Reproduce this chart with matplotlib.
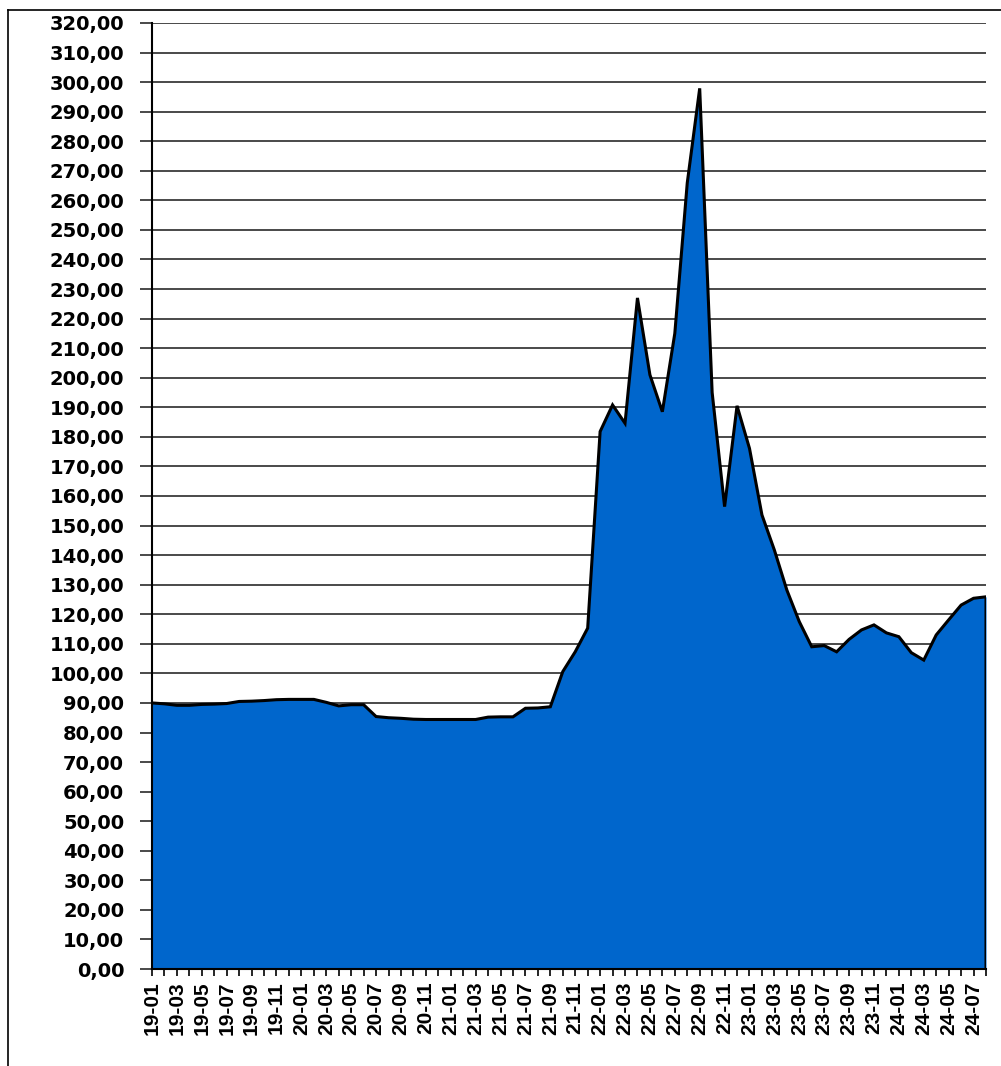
import matplotlib
matplotlib.use('Agg')
import matplotlib.pyplot as plt
from matplotlib.lines import Line2D

# monthly values 2019-01 .. 2024-08
years = ['19', '20', '21', '22', '23', '24']
months = [y + '-' + '%02d' % m for y in years for m in range(1, 13)][:68]
values = [
    90.0, 89.7, 89.2, 89.2, 89.5, 89.6, 89.8, 90.5, 90.6, 90.8, 91.1, 91.2,   # 2019
    91.2, 91.2, 90.2, 89.0, 89.4, 89.4, 85.4, 85.0, 84.8, 84.5, 84.4, 84.4,   # 2020
    84.4, 84.4, 84.4, 85.2, 85.3, 85.3, 88.2, 88.3, 88.7, 100.6, 107.3, 115.3,  # 2021
    181.8, 190.8, 184.6, 227.0, 201.0, 188.5, 215.0, 265.9, 297.9, 195.0, 156.4, 190.5,  # 2022
    176.1, 153.6, 141.7, 128.2, 117.5, 109.0, 109.4, 107.3, 111.5, 114.7, 116.4, 113.7,  # 2023
    112.4, 107.0, 104.5, 113.0, 118.1, 123.1, 125.4, 125.9,  # 2024
]

x = list(range(len(values)))

fig = plt.figure(figsize=(10.01, 10.66), dpi=100)
ax = fig.add_axes([152 / 1001, 1 - 969 / 1066, (986 - 152) / 1001, (969 - 23) / 1066])

ax.fill_between(x, values, 0, color='#0066CC', zorder=3, linewidth=0)
ax.plot(x + [x[-1]], values + [0], color='black', lw=2.2, zorder=4, solid_joinstyle='miter')

ax.set_xlim(0, len(values) - 1)
ax.set_ylim(0, 320)

yt = list(range(0, 321, 10))
ax.set_yticks(yt)
ax.set_yticklabels([('%d,00' % v) for v in yt], fontsize=14, fontweight='bold',
                   family='DejaVu Sans')
ax.yaxis.grid(True, color='#3a3a3a', lw=1.3, zorder=1)
ax.set_axisbelow(True)

ax.set_xticks(x)
ax.set_xticklabels([m if i % 2 == 0 else '' for i, m in enumerate(months)], rotation=90,
                   fontsize=15, fontweight='bold', family='Liberation Sans')
ax.tick_params(axis='x', length=5, width=1.2, pad=4)
ax.tick_params(axis='y', length=9, width=1.3, pad=11, color='#3a3a3a')

for s in ['top', 'right']:
    ax.spines[s].set_visible(False)
ax.spines['left'].set_linewidth(1.5)
ax.spines['bottom'].set_linewidth(1.5)
ax.spines['left'].set_zorder(5)
ax.spines['bottom'].set_zorder(5)

# outer frame
fig.add_artist(Line2D([8 / 1001, 8 / 1001], [0, 1 - 10 / 1066], color='black', lw=1.2,
                      transform=fig.transFigure))
fig.add_artist(Line2D([8 / 1001, 1], [1 - 10 / 1066, 1 - 10 / 1066], color='black', lw=1.2,
                      transform=fig.transFigure))

fig.savefig('out.png', dpi=100)
